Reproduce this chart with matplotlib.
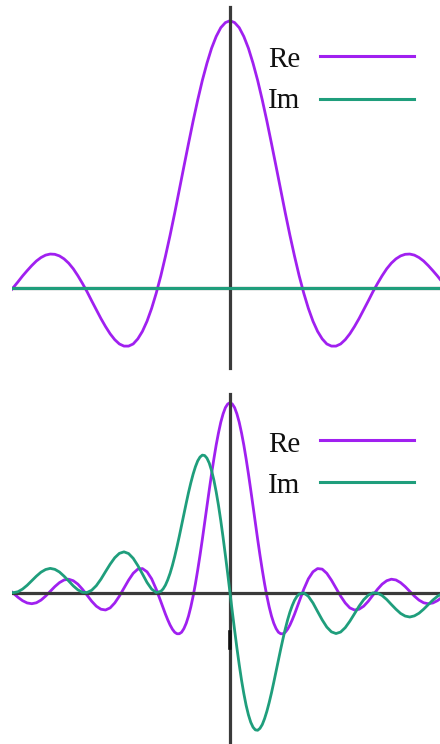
import matplotlib
matplotlib.use("Agg")
import matplotlib.pyplot as plt
from matplotlib.lines import Line2D

# ---------------- data ----------------
# top panel sample positions
t = [-9.6, -9.4, -9.2, -9.0, -8.8, -8.6, -8.4, -8.2, -8.0, -7.8,
     -7.6, -7.4, -7.2, -7.0, -6.8, -6.6, -6.4, -6.2, -6.0, -5.8,
     -5.6, -5.4, -5.2, -5.0, -4.8, -4.6, -4.4, -4.2, -4.0, -3.8,
     -3.6, -3.4, -3.2, -3.0, -2.8, -2.6, -2.4, -2.2, -2.0, -1.8,
     -1.6, -1.4, -1.2, -1.0, -0.8, -0.6, -0.4, -0.2, 0.0,
     0.2, 0.4, 0.6, 0.8, 1.0, 1.2, 1.4, 1.6, 1.8, 2.0,
     2.2, 2.4, 2.6, 2.8, 3.0, 3.2, 3.4, 3.6, 3.8, 4.0,
     4.2, 4.4, 4.6, 4.8, 5.0, 5.2, 5.4, 5.6, 5.8, 6.0,
     6.2, 6.4, 6.6, 6.8, 7.0, 7.2, 7.4, 7.6, 7.8, 8.0,
     8.2, 8.4, 8.6, 8.8, 9.0, 9.2]

top_re = [-0.018, 0.003, 0.024, 0.046, 0.066, 0.085, 0.102, 0.115, 0.124, 0.128,
          0.127, 0.121, 0.110, 0.094, 0.073, 0.047, 0.018, -0.013, -0.047, -0.080,
          -0.113, -0.143, -0.170, -0.192, -0.208, -0.216, -0.216, -0.208, -0.189, -0.161,
          -0.123, -0.075, -0.018, 0.047, 0.120, 0.198, 0.281, 0.368, 0.455, 0.541,
          0.625, 0.704, 0.777, 0.841, 0.897, 0.941, 0.974, 0.993, 1.000,
          0.993, 0.974, 0.941, 0.897, 0.841, 0.777, 0.704, 0.625, 0.541, 0.455,
          0.368, 0.281, 0.198, 0.120, 0.047, -0.018, -0.075, -0.123, -0.161, -0.189,
          -0.208, -0.216, -0.216, -0.208, -0.192, -0.170, -0.143, -0.113, -0.080, -0.047,
          -0.013, 0.018, 0.047, 0.073, 0.094, 0.110, 0.121, 0.127, 0.128, 0.124,
          0.115, 0.102, 0.085, 0.066, 0.046, 0.024]

top_im_t = [-9.6, 9.2]
top_im = [0.0, 0.0]

# bottom panel sample positions (denser near the centre)
t_bot = [-9.6, -9.4, -9.2, -9.0, -8.8, -8.6, -8.4, -8.2, -8.0, -7.8,
         -7.6, -7.4, -7.2, -7.0, -6.8, -6.6, -6.4, -6.2, -6.0, -5.8,
         -5.6, -5.4, -5.2, -5.0, -4.8, -4.6, -4.4, -4.2, -4.0, -3.8,
         -3.6, -3.4, -3.2,
         -3.0, -2.9, -2.8, -2.7, -2.6, -2.5, -2.4, -2.3, -2.2, -2.1,
         -2.0, -1.9, -1.8, -1.7, -1.6, -1.5, -1.4, -1.3, -1.2, -1.1,
         -1.0, -0.9, -0.8, -0.7, -0.6, -0.5, -0.4, -0.3, -0.2, -0.1,
         0.0,
         0.1, 0.2, 0.3, 0.4, 0.5, 0.6, 0.7, 0.8, 0.9, 1.0,
         1.1, 1.2, 1.3, 1.4, 1.5, 1.6, 1.7, 1.8, 1.9, 2.0,
         2.1, 2.2, 2.3, 2.4, 2.5, 2.6, 2.7, 2.8, 2.9, 3.0,
         3.2, 3.4, 3.6, 3.8, 4.0, 4.2, 4.4, 4.6, 4.8, 5.0,
         5.2, 5.4, 5.6, 5.8, 6.0, 6.2, 6.4, 6.6, 6.8, 7.0,
         7.2, 7.4, 7.6, 7.8, 8.0, 8.2, 8.4, 8.6, 8.8, 9.0, 9.2]

bot_re = [0.018, -0.003, -0.024, -0.042, -0.054, -0.058, -0.053, -0.039, -0.018, 0.007,
          0.032, 0.053, 0.067, 0.071, 0.063, 0.045, 0.018, -0.013, -0.045, -0.071,
          -0.087, -0.091, -0.080, -0.054, -0.018, 0.024, 0.066, 0.102, 0.124, 0.127,
          0.110, 0.073, 0.018,
          -0.047, -0.080, -0.113, -0.143, -0.170, -0.192, -0.208, -0.216, -0.216, -0.208,
          -0.189, -0.161, -0.123, -0.075, -0.018, 0.047, 0.120, 0.198, 0.281, 0.368,
          0.455, 0.541, 0.625, 0.704, 0.777, 0.841, 0.897, 0.941, 0.974, 0.993,
          1.000,
          0.993, 0.974, 0.941, 0.897, 0.841, 0.777, 0.704, 0.625, 0.541, 0.455,
          0.368, 0.281, 0.198, 0.120, 0.047, -0.018, -0.075, -0.123, -0.161, -0.189,
          -0.208, -0.216, -0.216, -0.208, -0.192, -0.170, -0.143, -0.113, -0.080, -0.047,
          0.018, 0.073, 0.110, 0.127, 0.124, 0.102, 0.066, 0.024, -0.018, -0.054,
          -0.080, -0.091, -0.087, -0.071, -0.045, -0.013, 0.018, 0.045, 0.063, 0.071,
          0.067, 0.053, 0.032, 0.007, -0.018, -0.039, -0.053, -0.058, -0.054, -0.042, -0.024]

bot_im = [0.003, 0.000, 0.005, 0.019, 0.039, 0.063, 0.087, 0.108, 0.122, 0.128,
          0.123, 0.109, 0.087, 0.062, 0.036, 0.015, 0.002, 0.001, 0.013, 0.037,
          0.071, 0.111, 0.150, 0.184, 0.207, 0.215, 0.206, 0.181, 0.143, 0.099,
          0.054, 0.019, 0.001,
          0.007, 0.020, 0.040, 0.068, 0.102, 0.143, 0.190, 0.242, 0.297, 0.355,
          0.413, 0.471, 0.527, 0.578, 0.624, 0.663, 0.694, 0.714, 0.724, 0.722,
          0.708, 0.682, 0.643, 0.593, 0.531, 0.460, 0.379, 0.291, 0.197, 0.100,
          0.000,
          -0.100, -0.197, -0.291, -0.379, -0.460, -0.531, -0.593, -0.643, -0.682, -0.708,
          -0.722, -0.724, -0.714, -0.694, -0.663, -0.624, -0.578, -0.527, -0.471, -0.413,
          -0.355, -0.297, -0.242, -0.190, -0.143, -0.102, -0.068, -0.040, -0.020, -0.007,
          -0.001, -0.019, -0.054, -0.099, -0.143, -0.181, -0.206, -0.215, -0.207, -0.184,
          -0.150, -0.111, -0.071, -0.037, -0.013, -0.001, -0.002, -0.015, -0.036, -0.062,
          -0.087, -0.109, -0.123, -0.128, -0.122, -0.108, -0.087, -0.063, -0.039, -0.019, -0.005]

labels = ["Re", "Im"]

# ---------------- style ----------------
W, H = 440, 744
PURPLE = "#a020f0"
GREEN = "#1f9e7c"
AXC = "#3a3a3a"
FONT = ["Liberation Serif", "DejaVu Serif"]

fig = plt.figure(figsize=(W / 100, H / 100), dpi=100)

XLIM = (-9.458, 9.111)


def make_axes(top_px, bot_px, ylim):
    ax = fig.add_axes([12 / W, 1 - bot_px / H, (W - 12) / W, (bot_px - top_px) / H])
    ax.set_xlim(*XLIM)
    ax.set_ylim(*ylim)
    ax.axis("off")
    return ax


# top panel
ax1 = make_axes(0, 372, (-0.3128, 1.0774))
ax1.plot(t, top_re, color=PURPLE, lw=2.0, zorder=1)
ax1.axhline(0, color=AXC, lw=2.3, zorder=2)
ax1.axvline(0, ymin=(372 - 368) / 372, ymax=(372 - 7) / 372, color=AXC, lw=2.3, zorder=2)
ax1.plot(top_im_t, top_im, color=GREEN, lw=2.2, zorder=3)

# bottom panel
ax2 = make_axes(390, 744, (-0.7963, 1.0668))
ax2.plot(t_bot, bot_re, color=PURPLE, lw=2.0, zorder=1)
ax2.axhline(0, color=AXC, lw=2.3, zorder=2)
ax2.axvline(0, ymin=0.0, ymax=(744 - 394) / 354, color=AXC, lw=2.3, zorder=2)
ax2.axvline(0, ymin=(744 - 648) / 354, ymax=(744 - 632) / 354, color="#111111", lw=2.6, zorder=2)
ax2.plot(t_bot, bot_im, color=GREEN, lw=2.0, zorder=3)


# legends
def legend(y_re_line, y_re_base, y_im_line, y_im_base):
    for lab, col, yl, yb in [(labels[0], PURPLE, y_re_line, y_re_base),
                             (labels[1], GREEN, y_im_line, y_im_base)]:
        fig.text(268 / W, 1 - yb / H, lab, fontsize=21, family=FONT,
                 ha="left", va="baseline", color="#111111")
        fig.add_artist(Line2D([320 / W, 414 / W], [1 - yl / H, 1 - yl / H],
                              transform=fig.transFigure, color=col, lw=2.2))


legend(56, 67, 99, 108)
legend(440, 452, 482, 493)

fig.savefig("out.png", dpi=100)
